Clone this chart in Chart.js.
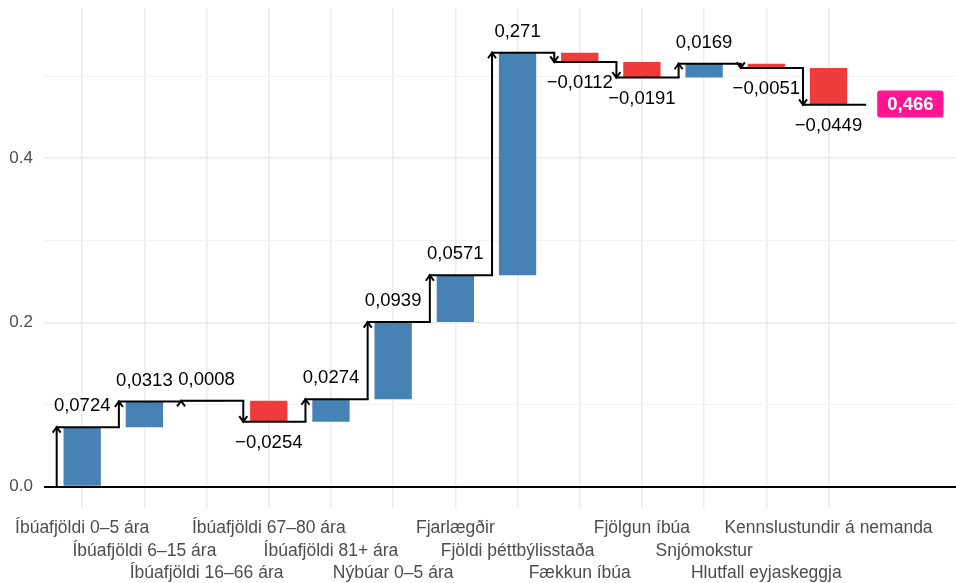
<!DOCTYPE html>
<html>
<head>
<meta charset="utf-8">
<script src="https://cdn.jsdelivr.net/npm/chart.js@4"></script>
<style>
  body { margin: 0; background: #fff; }
  #wrap { width: 956px; height: 583px; position: relative; }
</style>
</head>
<body>
<div id="wrap"><canvas id="waterfall"></canvas></div>
<script>
// waterfall data
const categories = [
  "Íbúafjöldi 0–5 ára",
  "Íbúafjöldi 6–15 ára",
  "Íbúafjöldi 16–66 ára",
  "Íbúafjöldi 67–80 ára",
  "Íbúafjöldi 81+ ára",
  "Nýbúar 0–5 ára",
  "Fjarlægðir",
  "Fjöldi þéttbýlisstaða",
  "Fækkun íbúa",
  "Fjölgun íbúa",
  "Snjómokstur",
  "Hlutfall eyjaskeggja",
  "Kennslustundir á nemanda"
];
const changes = [0.0724, 0.0313, 0.0008, -0.0254, 0.0274, 0.0939, 0.0571, 0.271, -0.0112, -0.0191, 0.0169, -0.0051, -0.0449];
const total = 0.466;
const yLabelled = [0, 0.2, 0.4];

const BLUE = "#4682B4";
const RED = "#EE3B3B";
const PINK = "#FF1493";
const FONT = "'Liberation Sans', Arial, sans-serif";
const ARROW_SHIFT = 0.41; // connector sits left of the bar centre, in category units

// running totals
let starts = [];
let ends = [];
let run = 0;
changes.forEach(function (v) {
  starts.push(run);
  run += v;
  ends.push(run);
});

function fmt(v) {
  let s = String(Number(Math.abs(v).toPrecision(3))).replace(".", ",");
  return (v < 0 ? "\u2212" : "") + s;
}

// stagger the category names over three rows
function tickLines(i) {
  let lines = [];
  for (let k = 0; k < i % 3; k++) lines.push("");
  lines.push(categories[i]);
  return lines;
}

const connectors = {
  id: "connectors",
  afterDatasetsDraw: function (chart) {
    const ctx = chart.ctx;
    const xs = chart.scales.x;
    const ys = chart.scales.y;
    ctx.save();
    ctx.strokeStyle = "#000";
    ctx.lineWidth = 2;
    ctx.lineCap = "butt";
    ctx.lineJoin = "miter";

    for (let i = 0; i < changes.length; i++) {
      const x = xs.getPixelForValue(i + 1 - ARROW_SHIFT);
      const xNext = xs.getPixelForValue(i + 2 - ARROW_SHIFT);
      const y0 = ys.getPixelForValue(starts[i]);
      const y1 = ys.getPixelForValue(ends[i]);
      const dir = y1 > y0 ? 1 : -1;

      // shaft
      ctx.beginPath();
      ctx.moveTo(x, y0);
      ctx.lineTo(x, y1);
      ctx.stroke();
      // open head
      ctx.beginPath();
      ctx.moveTo(x - 4, y1 - dir * 5.5);
      ctx.lineTo(x, y1);
      ctx.lineTo(x + 4, y1 - dir * 5.5);
      ctx.stroke();
      // step to the next one
      ctx.beginPath();
      ctx.moveTo(x - 1, y1);
      ctx.lineTo(xNext + 1, y1);
      ctx.stroke();

      // value label
      const cx = xs.getPixelForValue(i + 1);
      ctx.fillStyle = "#000";
      ctx.font = "18.5px " + FONT;
      ctx.textAlign = "center";
      ctx.textBaseline = "middle";
      ctx.fillText(fmt(changes[i]), cx, y1 + (changes[i] < 0 ? 21 : -21));
    }

    // total badge
    const xEnd = xs.getPixelForValue(changes.length + 1 - ARROW_SHIFT);
    const yt = ys.getPixelForValue(total);
    const txt = fmt(total);
    ctx.font = "bold 18.5px " + FONT;
    const w = ctx.measureText(txt).width + 20;
    const h = 27;
    const bx = xEnd + 12;
    ctx.fillStyle = PINK;
    ctx.beginPath();
    ctx.roundRect(bx, yt - h / 2, w, h, 3);
    ctx.fill();
    ctx.fillStyle = "#fff";
    ctx.textAlign = "center";
    ctx.textBaseline = "middle";
    ctx.fillText(txt, bx + w / 2, yt + 1);
    ctx.restore();
  }
};

const barData = changes.map(function (v, i) {
  return { x: i + 1, y: [starts[i], ends[i]] };
});

new Chart(document.getElementById("waterfall"), {
  type: "bar",
  data: {
    datasets: [
      {
        data: barData,
        backgroundColor: changes.map(function (v) { return v < 0 ? RED : BLUE; }),
        borderWidth: 0,
        categoryPercentage: 1,
        barPercentage: 0.6
      }
    ]
  },
  options: {
    responsive: true,
    maintainAspectRatio: false,
    animation: false,
    layout: { padding: { top: 8, right: 0, bottom: 0, left: 0 } },
    plugins: {
      legend: { display: false },
      tooltip: { enabled: false }
    },
    scales: {
      x: {
        type: "linear",
        min: 0.386,
        max: 15.05,
        offset: false,
        border: { display: false },
        afterFit: function (scale) {
          scale.height = 75;
          scale.paddingLeft = 0;
          scale.paddingRight = 0;
        },
        grid: {
          offset: false,
          drawTicks: false,
          lineWidth: 1.5,
          color: function (c) {
            return c.tick && c.tick.value <= categories.length ? "#EBEBEB" : "rgba(0,0,0,0)";
          }
        },
        ticks: {
          stepSize: 1,
          includeBounds: false,
          autoSkip: false,
          maxRotation: 0,
          minRotation: 0,
          padding: 9,
          color: "#4D4D4D",
          font: { family: FONT, size: 17.5, lineHeight: 1.29 },
          callback: function (value) {
            const i = Math.round(value) - 1;
            return i >= 0 && i < categories.length ? tickLines(i) : "";
          }
        }
      },
      y: {
        min: -0.026,
        max: 0.583,
        border: { display: false },
        afterFit: function (scale) {
          scale.width = 44;
          scale.paddingTop = 0;
          scale.paddingBottom = 0;
        },
        grid: {
          drawTicks: false,
          color: function (c) {
            const v = Math.round(c.tick.value * 10);
            if (v === 0) return "#000";
            return v % 2 === 0 ? "#EBEBEB" : "#F3F3F3";
          },
          lineWidth: function (c) {
            const v = Math.round(c.tick.value * 10);
            if (v === 0) return 2;
            return v % 2 === 0 ? 1.5 : 1;
          }
        },
        ticks: {
          stepSize: 0.1,
          includeBounds: false,
          padding: 11,
          color: "#4D4D4D",
          font: { family: FONT, size: 17 },
          callback: function (value) {
            const hit = yLabelled.some(function (t) { return Math.abs(t - value) < 1e-6; });
            return hit ? value.toFixed(1) : "";
          }
        }
      }
    }
  },
  plugins: [connectors]
});
</script>
</body>
</html>
